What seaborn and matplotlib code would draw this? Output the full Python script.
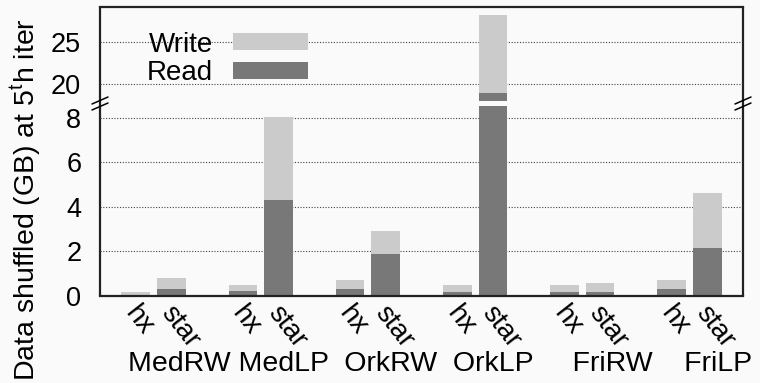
import numpy as np
import pandas as pd
import matplotlib
matplotlib.use("Agg")
import matplotlib.pyplot as plt
from matplotlib.lines import Line2D
from matplotlib.patches import Patch
from matplotlib.transforms import ScaledTranslation
import seaborn as sns

# Shuffled data per dataset/algorithm pair (GB)
datasets = ["MedRW", "MedLP", "OrkRW", "OrkLP", "FriRW", "FriLP"]
systems = ["hx", "star"]
read_hx = [0.02, 0.22, 0.31, 0.18, 0.18, 0.31]
write_hx = [0.16, 0.27, 0.41, 0.31, 0.31, 0.41]
read_star = [0.31, 4.33, 1.87, 18.86, 0.18, 2.14]
write_star = [0.50, 3.70, 1.05, 9.34, 0.40, 2.50]
upper_ticks = [20, 25]
lower_ticks = [0, 2, 4, 6, 8]

LIGHT = "#cbcbcb"
DARK = "#787878"
BG = "#fafafa"

sns.set_theme(style="white")
plt.rcParams["font.family"] = ["Liberation Sans", "DejaVu Sans"]
plt.rcParams["mathtext.fontset"] = "custom"
plt.rcParams["mathtext.rm"] = "Liberation Sans"
for key in ("text.color", "axes.labelcolor", "xtick.color", "ytick.color"):
    plt.rcParams[key] = "black"

rows = []
for i, ds in enumerate(datasets):
    for j, (sysname, rd, wr) in enumerate(
        [("hx", read_hx[i], write_hx[i]), ("star", read_star[i], write_star[i])]
    ):
        rows.append({"pos": 3 * i + j, "dataset": ds, "system": sysname,
                     "read": rd, "total": rd + wr})
df = pd.DataFrame(rows)

W, H = 760, 383
fig = plt.figure(figsize=(W / 100, H / 100), dpi=100, facecolor=BG)


def fx(px):
    return px / W


def fy(py):
    return 1 - py / H


left, right = 100, 743
ax_top = fig.add_axes([fx(left), fy(101), fx(right) - fx(left), fy(7) - fy(101)])
ax_bot = fig.add_axes([fx(left), fy(296), fx(right) - fx(left), fy(106) - fy(296)])

for ax in (ax_top, ax_bot):
    ax.set_facecolor(BG)
    sns.barplot(data=df, x="pos", y="total", native_scale=True, color=LIGHT,
                saturation=1, width=0.8, errorbar=None, linewidth=0, ax=ax)
    sns.barplot(data=df, x="pos", y="read", native_scale=True, color=DARK,
                saturation=1, width=0.8, errorbar=None, linewidth=0, ax=ax)
    ax.set_xlim(-1, 17)
    ax.set_xlabel("")
    ax.set_ylabel("")
    ax.grid(axis="y", color="#444444", linestyle=(0, (1, 1.5)), linewidth=0.8)
    ax.grid(axis="x", visible=False)
    ax.set_axisbelow(True)
    ax.tick_params(axis="y", length=0, labelsize=19.5, pad=13.5)
    for s in ax.spines.values():
        s.set_visible(False)

ax_top.set_ylim(17.91, 29.15)
ax_top.set_yticks(upper_ticks)
ax_top.set_xticks([])
ax_top.spines["top"].set_visible(True)
ax_top.spines["top"].set_color("#222222")
ax_top.spines["top"].set_linewidth(1.6)

ax_bot.set_ylim(0, 8.53)
ax_bot.set_yticks(lower_ticks)
ax_bot.spines["bottom"].set_visible(True)
ax_bot.spines["bottom"].set_color("#222222")
ax_bot.spines["bottom"].set_linewidth(1.6)
ax_bot.tick_params(axis="x", length=0, pad=3.5)
ax_bot.set_xticks(df["pos"].tolist())
ax_bot.set_xticklabels(df["system"].tolist(), rotation=-52, ha="left",
                       va="top", rotation_mode="anchor", fontsize=20)
shift = ScaledTranslation(3 / 72, 0, fig.dpi_scale_trans)
for lbl in ax_bot.get_xticklabels():
    lbl.set_transform(lbl.get_transform() + shift)

# Continuous side frame through the axis break
for xpix in (left, right):
    fig.add_artist(Line2D([fx(xpix), fx(xpix)], [fy(7), fy(296)],
                          color="#222222", linewidth=1.6))
    for dy in (0, 6):
        fig.add_artist(Line2D([fx(xpix - 8), fx(xpix + 8)],
                              [fy(104 + dy), fy(97 + dy)],
                              color="black", linewidth=1.1))

# Dataset names beneath the rotated system labels
fig.text(fx(440), fy(364), "MedRW MedLP  OrkRW  OrkLP     FriRW    FriLP",
         ha="center", va="center", fontsize=20.5)

fig.text(fx(26), fy(200), r"Data shuffled (GB) at 5$^\mathrm{t}$h iter",
         rotation=90, ha="center", va="center", fontsize=20.5)

handles = [Patch(facecolor=LIGHT, edgecolor="none", label="Write"),
           Patch(facecolor=DARK, edgecolor="none", label="Read")]
leg = ax_top.legend(handles=handles, loc="center", frameon=False,
                    markerfirst=False, fontsize=20, handlelength=2.7,
                    handleheight=0.55, labelspacing=0.1, handletextpad=0.7,
                    borderaxespad=0, bbox_to_anchor=(fx(227.5), fy(59)),
                    bbox_transform=fig.transFigure)
for t in leg.get_texts():
    t.set_ha("right")

fig.savefig("out.png", dpi=100, facecolor=BG)
